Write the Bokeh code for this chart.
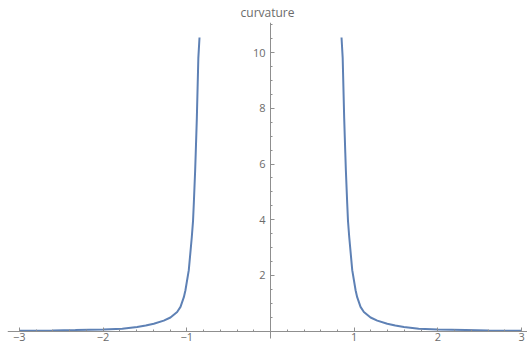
from bokeh.plotting import figure
from bokeh.models import FixedTicker, Range1d
from bokeh.embed import file_html
from bokeh.resources import INLINE

# distance from x=0 (right branch) and curvature values
x_right = [0.848, 0.862, 0.880, 0.893, 0.90, 0.916, 0.925, 0.94, 0.976, 1.016,
           1.035, 1.075, 1.115, 1.195, 1.275, 1.394, 1.49, 1.593, 1.77, 2.0,
           2.33, 2.6, 3.0]
curvature = [10.54, 9.8, 7.63, 6.4, 5.77, 4.58, 3.97, 3.38, 2.19, 1.47,
             1.22, 0.87, 0.69, 0.49, 0.38, 0.265, 0.2, 0.15, 0.09, 0.06,
             0.04, 0.025, 0.015]
x_left = [-v for v in x_right]

x_ticks = [-3, -2, -1, 0, 1, 2, 3]
y_ticks = [2, 4, 6, 8, 10]
x_minor = [round(-3.2 + 0.2 * i, 1) for i in range(33)]
y_minor = [round(0.5 * i, 1) for i in range(23)]

AXIS = "#8f8f8f"
TEXT = "#6b6b6b"
CURVE = "#5E81B5"
FONT = "Open Sans"

p = figure(width=527, height=351, output_backend="svg", toolbar_location=None,
           x_range=Range1d(-3.141, 3.069), y_range=Range1d(-0.73, 11.08),
           min_border_left=7, min_border_right=0, min_border_top=22,
           min_border_bottom=0, title="curvature")
p.outline_line_color = None
p.grid.visible = False
p.background_fill_color = "white"

p.title.align = "center"
p.title.text_color = TEXT
p.title.text_font = FONT
p.title.text_font_size = "12px"
p.title.text_font_style = "normal"
p.title.standoff = 3

p.line(x_left, curvature, line_color=CURVE, line_width=2)
p.line(x_right, curvature, line_color=CURVE, line_width=2)

for ax in (p.xaxis[0], p.yaxis[0]):
    ax.fixed_location = 0
    ax.axis_line_color = AXIS
    ax.major_tick_line_color = AXIS
    ax.minor_tick_line_color = AXIS
    ax.major_tick_in = 4
    ax.major_tick_out = 0
    ax.minor_tick_in = 2
    ax.minor_tick_out = 0
    ax.major_label_text_color = TEXT
    ax.major_label_text_font = FONT
    ax.major_label_text_font_size = "11px"
    ax.major_label_overrides = {0: ""}

p.xaxis[0].ticker = FixedTicker(ticks=x_ticks, minor_ticks=x_minor)
p.yaxis[0].ticker = FixedTicker(ticks=y_ticks, minor_ticks=y_minor)
p.yaxis[0].bounds = (-0.26, 11.08)
p.xaxis[0].major_label_standoff = 2
p.yaxis[0].major_label_standoff = 5

open("out.html", "w").write(file_html(p, INLINE))
